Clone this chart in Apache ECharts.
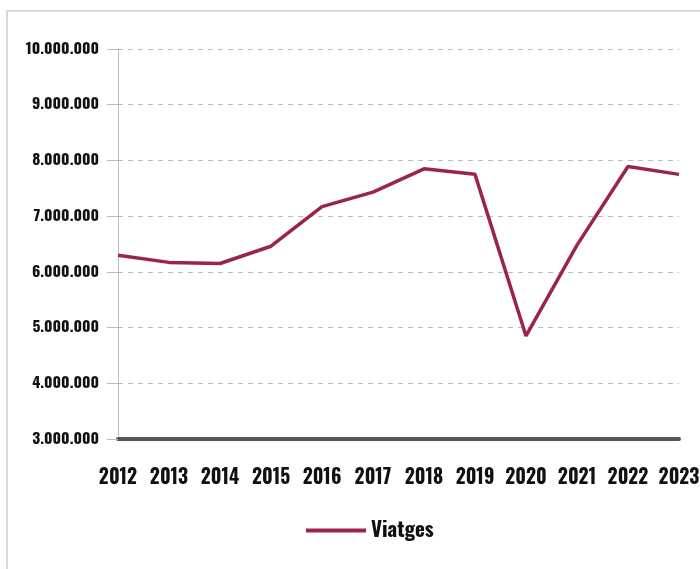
<!DOCTYPE html>
<html>
<head>
<meta charset="utf-8">
<script src="https://cdn.jsdelivr.net/npm/echarts@6/dist/echarts.min.js"></script>
<style>
html,body{margin:0;padding:0;background:#fff;}
#chart{width:700px;height:569px;}
</style>
</head>
<body>
<div id="chart"></div>
<script>
var years = ['2012','2013','2014','2015','2016','2017','2018','2019','2020','2021','2022','2023'];
var viatges = [6300000, 6170000, 6150000, 6460000, 7170000, 7430000, 7850000, 7750000, 4850000, 6480000, 7890000, 7750000];
var seriesName = 'Viatges';

var FONT = "Oswald, 'Roboto Condensed', sans-serif";
function fmt(v){
  return String(Math.round(v)).replace(/\B(?=(\d{3})+(?!\d))/g, '.');
}
var chart = echarts.init(document.getElementById('chart'), null, {renderer:'canvas'});
chart.setOption({
  animation:false,
  backgroundColor:'#fff',
  graphic:[{
    type:'rect', silent:true, z:-10,
    shape:{x:7, y:11, width:760, height:640},
    style:{fill:'none', stroke:'#d9d9d9', lineWidth:2}
  }],
  grid:{left:118, top:49, right:21, bottom:130, containLabel:false, outerBoundsMode:'none'},
  legend:{
    left:301, top:515,
    icon:'rect', itemWidth:60, itemHeight:4,
    textStyle:{fontFamily:FONT, fontWeight:'bold', fontSize:21, color:'#111'},
    data:[seriesName]
  },
  xAxis:{
    type:'category', data:years, boundaryGap:false,
    axisLine:{show:true, lineStyle:{color:'#555', width:4}},
    axisTick:{show:false},
    axisLabel:{fontFamily:FONT, fontWeight:'bold', fontSize:19.5, color:'#111', margin:29, interval:0}
  },
  yAxis:{
    type:'value', min:3000000, max:10000000, interval:1000000,
    axisLine:{show:true, lineStyle:{color:'#bbb', width:1}},
    axisTick:{show:true, length:11, lineStyle:{color:'#bbb'}},
    splitLine:{show:true, lineStyle:{color:'#bbb', type:[5,5], width:1}},
    axisLabel:{fontFamily:FONT, fontWeight:'bold', fontSize:15.5, color:'#111', margin:19, formatter:fmt}
  },
  series:[{
    name:seriesName, type:'line', data:viatges,
    symbol:'none', smooth:false,
    lineStyle:{color:'#9b2548', width:3.5},
    itemStyle:{color:'#9b2548'}
  }]
});
</script>
</body>
</html>
